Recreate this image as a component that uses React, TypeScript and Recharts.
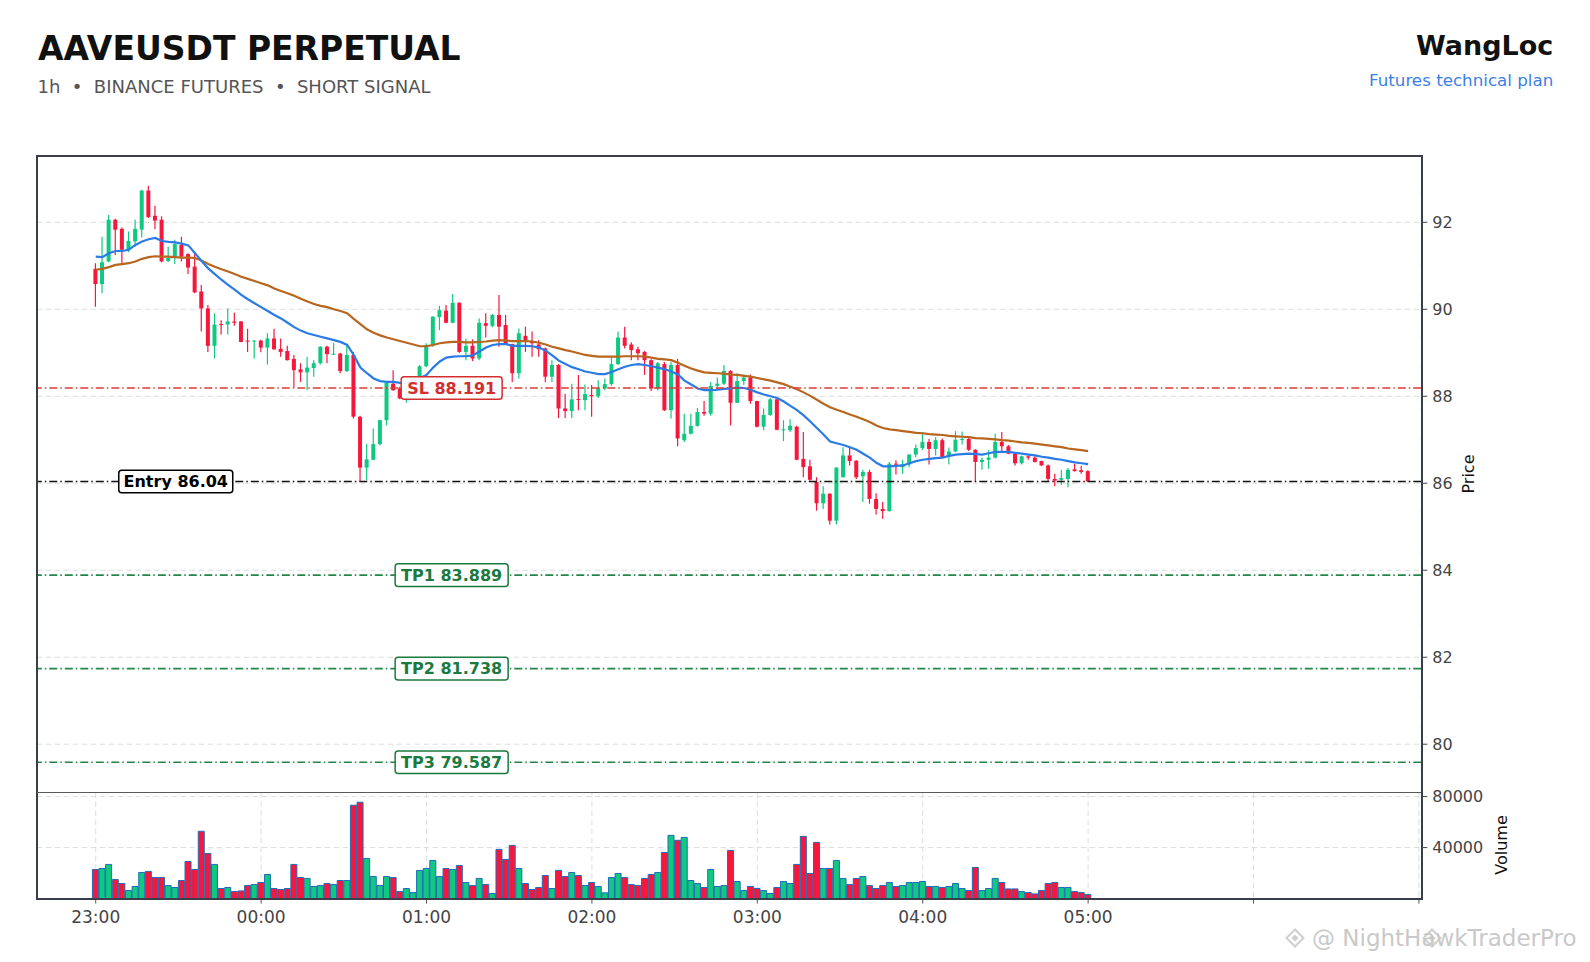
import React from 'react';
import { ComposedChart, Bar, Line, XAxis, YAxis, CartesianGrid, ReferenceLine, ReferenceDot, Cell } from 'recharts';

// open, high, low, close per bar (index 0 = 23:00, 25 bars per hour)
const CANDLES: [number, number, number, number][] = [
  [90.93, 91.06, 90.06, 90.58], [90.58, 91.67, 90.37, 91.08], [91.10, 92.17, 91.08, 92.06], [92.06, 92.08, 91.25, 91.83],
  [91.85, 91.88, 91.06, 91.37], [91.37, 91.79, 91.31, 91.57], [91.56, 92.06, 91.44, 91.85], [91.83, 92.75, 91.65, 92.73],
  [92.73, 92.84, 92.10, 92.12], [92.15, 92.38, 91.84, 92.04], [92.06, 92.14, 91.08, 91.10], [91.11, 91.44, 91.09, 91.18],
  [91.21, 91.60, 91.04, 91.50], [91.48, 91.67, 91.10, 91.21], [91.27, 91.29, 90.81, 90.96], [90.98, 91.29, 90.37, 90.39],
  [90.41, 90.56, 89.49, 90.02], [90.02, 90.10, 89.02, 89.16], [89.16, 89.91, 88.87, 89.65], [89.66, 89.75, 89.42, 89.64],
  [89.65, 90.02, 89.42, 89.72], [89.72, 89.92, 89.62, 89.69], [89.72, 89.73, 89.24, 89.25], [89.28, 89.55, 89.02, 89.26],
  [89.26, 89.29, 88.87, 89.28], [89.28, 89.30, 89.01, 89.12], [89.12, 89.45, 88.73, 89.33], [89.33, 89.55, 89.07, 89.08],
  [89.09, 89.33, 88.91, 89.02], [89.04, 89.16, 88.82, 88.83], [88.86, 88.95, 88.20, 88.60], [88.62, 88.76, 88.33, 88.55],
  [88.55, 88.91, 88.14, 88.66], [88.65, 88.83, 88.45, 88.76], [88.76, 89.15, 88.73, 89.14], [89.14, 89.16, 88.76, 88.97],
  [88.97, 89.22, 88.95, 88.98], [88.98, 89.00, 88.53, 88.58], [88.58, 89.16, 88.56, 88.95], [88.95, 89.02, 87.49, 87.53],
  [87.53, 87.55, 86.05, 86.36], [86.36, 86.91, 86.07, 86.55], [86.54, 87.26, 86.53, 86.90], [86.90, 87.46, 86.87, 87.45],
  [87.45, 88.32, 87.33, 88.31], [88.29, 88.60, 88.13, 88.14], [88.18, 88.22, 87.93, 87.95], [87.95, 88.15, 87.85, 88.05],
  [88.05, 88.30, 87.95, 88.20], [88.20, 88.72, 88.15, 88.69], [88.69, 89.22, 88.67, 89.18], [89.18, 89.84, 89.14, 89.83],
  [89.82, 90.08, 89.52, 89.98], [89.97, 90.10, 89.68, 89.69], [89.69, 90.35, 89.68, 90.15], [90.15, 90.16, 89.00, 89.02],
  [89.02, 89.33, 88.83, 89.16], [89.16, 89.31, 88.81, 88.87], [88.87, 89.79, 88.83, 89.69], [89.68, 89.91, 89.35, 89.62],
  [89.62, 89.89, 89.59, 89.87], [89.87, 90.33, 89.14, 89.60], [89.64, 89.87, 89.18, 89.20], [89.20, 89.21, 88.33, 88.53],
  [88.53, 89.56, 88.41, 89.45], [89.39, 89.60, 89.02, 89.29], [89.25, 89.49, 88.91, 89.22], [89.19, 89.29, 88.91, 89.08],
  [89.10, 89.12, 88.32, 88.45], [88.45, 88.83, 88.33, 88.72], [88.72, 88.74, 87.50, 87.72], [87.72, 88.06, 87.50, 87.66],
  [87.66, 88.29, 87.50, 87.93], [87.94, 88.49, 87.68, 87.92], [87.91, 88.27, 87.68, 88.05], [88.03, 88.26, 87.53, 88.00],
  [88.00, 88.37, 87.96, 88.18], [88.18, 88.41, 88.14, 88.28], [88.28, 88.91, 88.24, 88.74], [88.74, 89.49, 88.72, 89.35],
  [89.35, 89.60, 89.10, 89.16], [89.19, 89.24, 88.83, 89.06], [89.08, 89.14, 88.83, 88.99], [89.02, 89.04, 88.49, 88.83],
  [88.83, 88.85, 88.12, 88.18], [88.18, 88.79, 88.14, 88.76], [88.74, 88.79, 87.66, 87.68], [87.68, 88.79, 87.49, 88.72],
  [88.72, 88.86, 86.85, 87.03], [86.99, 87.60, 86.95, 87.14], [87.14, 87.60, 87.12, 87.32], [87.32, 87.73, 87.30, 87.64],
  [87.64, 87.89, 87.55, 87.60], [87.60, 88.33, 87.55, 88.24], [88.24, 88.43, 88.14, 88.29], [88.29, 88.72, 88.26, 88.58],
  [88.58, 88.60, 87.33, 87.85], [87.85, 88.53, 87.84, 88.35], [88.35, 88.50, 88.26, 88.43], [88.43, 88.50, 87.83, 87.89],
  [87.89, 87.90, 87.28, 87.30], [87.30, 87.72, 87.22, 87.57], [87.57, 87.96, 87.55, 87.93], [87.93, 87.94, 87.22, 87.23],
  [87.23, 87.45, 86.97, 87.24], [87.22, 87.47, 87.18, 87.32], [87.30, 87.32, 86.53, 86.54], [86.56, 87.18, 86.14, 86.37],
  [86.39, 86.54, 86.06, 86.08], [86.03, 86.14, 85.37, 85.54], [85.54, 85.93, 85.41, 85.76], [85.76, 85.77, 85.05, 85.14],
  [85.14, 86.37, 85.05, 86.36], [86.14, 86.83, 86.13, 86.64], [86.64, 86.82, 86.41, 86.51], [86.52, 86.53, 86.10, 86.14],
  [86.16, 86.31, 85.57, 86.26], [86.26, 86.31, 85.53, 85.64], [85.64, 85.77, 85.28, 85.41], [85.41, 85.57, 85.18, 85.36],
  [85.36, 86.49, 85.35, 86.45], [86.45, 86.53, 86.20, 86.43], [86.37, 86.54, 86.22, 86.43], [86.43, 86.67, 86.37, 86.66],
  [86.66, 86.89, 86.60, 86.81], [86.81, 87.18, 86.76, 86.95], [86.95, 87.02, 86.43, 86.79], [86.79, 87.06, 86.64, 86.99],
  [86.99, 87.03, 86.58, 86.59], [86.64, 86.82, 86.43, 86.73], [86.73, 87.20, 86.72, 87.00], [87.00, 87.19, 86.89, 87.02],
  [87.02, 87.08, 86.74, 86.77], [86.77, 86.78, 86.03, 86.49], [86.49, 86.59, 86.31, 86.54], [86.54, 86.76, 86.33, 86.59],
  [86.59, 87.14, 86.57, 86.95], [86.95, 87.18, 86.72, 86.85], [86.85, 86.88, 86.67, 86.68], [86.68, 86.69, 86.41, 86.46],
  [86.46, 86.64, 86.43, 86.62], [86.62, 86.64, 86.54, 86.59], [86.59, 86.62, 86.48, 86.49], [86.51, 86.52, 86.40, 86.41],
  [86.41, 86.43, 86.04, 86.10], [86.10, 86.22, 85.93, 86.06], [86.08, 86.31, 85.96, 86.12], [86.10, 86.35, 85.91, 86.31],
  [86.32, 86.45, 86.27, 86.28], [86.30, 86.40, 86.22, 86.26], [86.28, 86.30, 86.03, 86.04],
];

const VOLUME = [
  22800, 23600, 26800, 15000, 11800, 6300, 9500, 20500, 21300, 16500,
  16500, 10200, 8700, 14200, 29100, 22800, 52800, 35400, 26800, 7900,
  8700, 5500, 6000, 10200, 11000, 12600, 18900, 7900, 7100, 7900,
  26800, 16500, 15800, 9500, 10200, 11800, 11000, 14200, 14200, 73200,
  75600, 31500, 17300, 10200, 17300, 16500, 5500, 7900, 4700, 22100,
  23600, 29900, 17300, 23600, 22800, 26000, 12600, 10200, 15800, 11000,
  4000, 38600, 30700, 41700, 23600, 11800, 7100, 8700, 18100, 7900,
  22100, 17300, 20500, 18100, 10200, 12600, 9500, 4500, 16500, 19700,
  16500, 11000, 10200, 15800, 18900, 20500, 36200, 49600, 45700, 48000,
  14200, 11800, 8700, 22800, 9500, 10200, 37800, 13400, 6300, 9500,
  7900, 6300, 4000, 8700, 13400, 11800, 26800, 48800, 19700, 44100,
  23600, 23600, 29900, 15800, 11000, 15800, 17300, 10200, 7900, 10200,
  12600, 9500, 10200, 12600, 12600, 13400, 9500, 9500, 8700, 9500,
  11800, 7900, 6300, 24400, 6300, 7900, 15800, 12600, 7600, 7600,
  5500, 4700, 3700, 6300, 11800, 12600, 8700, 8700, 5500, 4700, 3200,
];

const EMA_FAST = [
  91.21, 91.20, 91.29, 91.34, 91.34, 91.37, 91.48, 91.56, 91.61, 91.64,
  91.57, 91.55, 91.54, 91.51, 91.47, 91.29, 91.11, 90.94, 90.81, 90.68,
  90.56, 90.45, 90.33, 90.23, 90.14, 90.05, 89.96, 89.87, 89.79, 89.69,
  89.59, 89.51, 89.45, 89.41, 89.37, 89.33, 89.29, 89.25, 89.18, 88.95,
  88.66, 88.53, 88.41, 88.35, 88.33, 88.33, 88.31, 88.31, 88.35, 88.42,
  88.49, 88.66, 88.80, 88.89, 88.91, 88.92, 88.92, 88.94, 89.03, 89.12,
  89.18, 89.20, 89.20, 89.16, 89.16, 89.16, 89.15, 89.12, 89.05, 88.94,
  88.82, 88.74, 88.67, 88.62, 88.57, 88.54, 88.51, 88.51, 88.56, 88.62,
  88.68, 88.72, 88.74, 88.72, 88.69, 88.66, 88.62, 88.57, 88.50, 88.36,
  88.27, 88.18, 88.14, 88.14, 88.15, 88.17, 88.18, 88.20, 88.19, 88.15,
  88.09, 88.04, 88.00, 87.96, 87.88, 87.78, 87.68, 87.56, 87.42, 87.27,
  87.12, 86.96, 86.92, 86.88, 86.83, 86.77, 86.68, 86.59, 86.47, 86.39,
  86.39, 86.40, 86.41, 86.46, 86.51, 86.54, 86.56, 86.58, 86.59, 86.63,
  86.66, 86.67, 86.68, 86.67, 86.66, 86.69, 86.72, 86.72, 86.72, 86.70,
  86.68, 86.66, 86.64, 86.61, 86.59, 86.56, 86.54, 86.51, 86.48, 86.46, 86.44,
];

const EMA_SLOW = [
  90.91, 90.93, 90.97, 91.02, 91.04, 91.06, 91.10, 91.16, 91.20, 91.22,
  91.21, 91.21, 91.20, 91.19, 91.19, 91.18, 91.12, 91.04, 90.98, 90.92,
  90.87, 90.81, 90.75, 90.70, 90.65, 90.60, 90.55, 90.48, 90.42, 90.37,
  90.31, 90.24, 90.18, 90.12, 90.08, 90.05, 90.00, 89.96, 89.91, 89.78,
  89.66, 89.54, 89.46, 89.40, 89.35, 89.31, 89.27, 89.23, 89.19, 89.15,
  89.15, 89.18, 89.22, 89.24, 89.25, 89.25, 89.24, 89.24, 89.25, 89.26,
  89.28, 89.29, 89.28, 89.27, 89.27, 89.27, 89.26, 89.23, 89.19, 89.14,
  89.10, 89.06, 89.03, 88.99, 88.95, 88.93, 88.91, 88.91, 88.91, 88.91,
  88.92, 88.92, 88.92, 88.91, 88.89, 88.86, 88.85, 88.83, 88.77, 88.70,
  88.64, 88.59, 88.55, 88.54, 88.53, 88.52, 88.50, 88.49, 88.47, 88.45,
  88.42, 88.39, 88.36, 88.32, 88.28, 88.22, 88.16, 88.09, 88.01, 87.92,
  87.83, 87.75, 87.69, 87.64, 87.58, 87.53, 87.47, 87.41, 87.33, 87.27,
  87.24, 87.22, 87.20, 87.18, 87.16, 87.15, 87.13, 87.12, 87.11, 87.09,
  87.08, 87.07, 87.06, 87.04, 87.03, 87.02, 87.01, 86.99, 86.98, 86.96,
  86.94, 86.93, 86.91, 86.89, 86.87, 86.85, 86.83, 86.80, 86.78, 86.76, 86.74,
];

const TIME_LABELS = ['23:00', '00:00', '01:00', '02:00', '03:00', '04:00', '05:00', '', ''];
const PRICE_TICKS = [80, 82, 84, 86, 88, 90, 92];
const VOLUME_TICKS = [40000, 80000];

const LEVELS = [
  { name: 'SL', price: 88.191, kind: 'sl' },
  { name: 'Entry', price: 86.04, kind: 'entry' },
  { name: 'TP1', price: 83.889, kind: 'tp' },
  { name: 'TP2', price: 81.738, kind: 'tp' },
  { name: 'TP3', price: 79.587, kind: 'tp' },
];

// layout
const W = 1590;
const H = 962;
const FONT = '"DejaVu Sans", sans-serif';
const UP = '#10c880';
const DOWN = '#f7173d';
const BARS_PER_HOUR = 25;
const X_TICKS = TIME_LABELS.map((_, k) => k * BARS_PER_HOUR);
const X_DOMAIN: [number, number] = [-8.92, 200.36];
const PLOT_LEFT = 36.7;
const AXIS_W = W - 1421.3;
const LABEL_AT = { entry: 12.1, other: 53.8 };

const LEVEL_STYLE: Record<string, { line: string; text: string }> = {
  sl: { line: '#dc3b35', text: '#d32f2f' },
  entry: { line: '#111111', text: '#000000' },
  tp: { line: '#23854b', text: '#1b7a3e' },
};

const rows = CANDLES.map(([open, high, low, close], i) => ({
  i,
  open,
  high,
  low,
  close,
  range: [low, high],
  volume: VOLUME[i],
  fast: EMA_FAST[i],
  slow: EMA_SLOW[i],
}));

const Candle = (props: any) => {
  const { x, y, width, height, payload } = props;
  if (!payload || height == null) return null;
  const { open, close, high, low } = payload;
  const color = close >= open ? UP : DOWN;
  const top = Math.min(y, y + height);
  const h = Math.abs(height);
  const perUnit = h / Math.max(high - low, 1e-6);
  const yOf = (v: number) => top + (high - v) * perUnit;
  const cx = x + width / 2;
  const bodyTop = yOf(Math.max(open, close));
  const bodyH = Math.max(1, Math.abs(yOf(open) - yOf(close)));
  return (
    <g>
      <line x1={cx} x2={cx} y1={top} y2={top + h} stroke={color} strokeWidth={1.2} />
      <rect x={x} y={bodyTop} width={width} height={bodyH} fill={color} />
    </g>
  );
};

const LevelTag = ({ cx, cy, text, kind }: any) => {
  const st = LEVEL_STYLE[kind];
  const w = kind === 'sl' ? 101 : kind === 'entry' ? 114 : 113;
  return (
    <g>
      <rect x={cx - w / 2} y={cy - 11.3} width={w} height={22.6} rx={3} fill="#ffffff" fillOpacity={0.92} stroke={st.text} strokeWidth={1.5} />
      <text x={cx} y={cy + 5.6} textAnchor="middle" fontFamily={FONT} fontWeight="bold" fontSize={16} fill={st.text}>
        {text}
      </text>
    </g>
  );
};

const xTickFormat = (v: number) => TIME_LABELS[Math.round(v / BARS_PER_HOUR)] ?? '';

const PriceChart = () => (
  <ComposedChart width={W} height={800} data={rows} margin={{ top: 156.2, right: 0, bottom: 7.5, left: PLOT_LEFT }}>
    <CartesianGrid stroke="#dedede" strokeDasharray="5.5 3.5" />
    <XAxis dataKey="i" type="number" domain={X_DOMAIN} ticks={X_TICKS} allowDataOverflow height={0} tick={false} tickLine={false} axisLine={false} />
    <YAxis
      orientation="right"
      domain={[78.89, 93.52]}
      ticks={PRICE_TICKS}
      allowDataOverflow
      width={AXIS_W}
      axisLine={false}
      tickSize={6}
      tickMargin={5}
      tickLine={{ stroke: '#444' }}
      tick={{ fontSize: 16, fill: '#444', fontFamily: FONT }}
    />
    <Bar dataKey="range" barSize={4} shape={<Candle />} isAnimationActive={false} />
    <Line dataKey="slow" type="linear" stroke="#b8661f" strokeWidth={2.2} dot={false} isAnimationActive={false} />
    <Line dataKey="fast" type="linear" stroke="#2a7be6" strokeWidth={2.2} dot={false} isAnimationActive={false} />
    {LEVELS.map((lv) => (
      <ReferenceLine
        key={lv.name}
        y={lv.price}
        stroke={LEVEL_STYLE[lv.kind].line}
        strokeWidth={1.6}
        strokeDasharray="8 3 1.5 3"
      />
    ))}
    {LEVELS.map((lv) => (
      <ReferenceDot
        key={lv.name + '-tag'}
        x={lv.kind === 'entry' ? LABEL_AT.entry : LABEL_AT.other}
        y={lv.price}
        r={0}
        ifOverflow="visible"
        shape={(p: any) => <LevelTag cx={p.cx} cy={p.cy} kind={lv.kind} text={`${lv.name} ${lv.price}`} />}
      />
    ))}
  </ComposedChart>
);

const VolumeChart = () => (
  <ComposedChart width={W} height={H} data={rows} margin={{ top: 792.5, right: 0, bottom: 0, left: PLOT_LEFT }}>
    <CartesianGrid stroke="#dedede" strokeDasharray="5.5 3.5" />
    <XAxis
      dataKey="i"
      type="number"
      domain={X_DOMAIN}
      ticks={X_TICKS}
      allowDataOverflow
      height={H - 898.6}
      axisLine={false}
      tickSize={5}
      tickMargin={7}
      tickLine={{ stroke: '#555' }}
      tickFormatter={xTickFormat}
      tick={{ fontSize: 17, fill: '#444', fontFamily: FONT }}
      interval={0}
    />
    <YAxis
      orientation="right"
      domain={[0, 83200]}
      ticks={VOLUME_TICKS}
      allowDataOverflow
      width={AXIS_W}
      axisLine={false}
      tickSize={6}
      tickMargin={5}
      tickLine={{ stroke: '#444' }}
      tick={{ fontSize: 16, fill: '#444', fontFamily: FONT }}
    />
    <Bar dataKey="volume" barSize={6} stroke="#1f6cb8" strokeWidth={1} isAnimationActive={false}>
      {rows.map((r) => (
        <Cell key={r.i} fill={r.close >= r.open ? UP : DOWN} />
      ))}
    </Bar>
  </ComposedChart>
);

// small diamond mark used by the watermark
const Diamond = ({ x, y }: { x: number; y: number }) => (
  <g transform={`translate(${x},${y}) rotate(45)`} fill="none" stroke="#cfcfcf" strokeWidth={2}>
    <rect x={-6} y={-6} width={12} height={12} />
    <rect x={-2.5} y={-2.5} width={5} height={5} fill="#cfcfcf" stroke="none" />
  </g>
);

export default function App() {
  return (
    <div style={{ position: 'absolute', left: 0, top: 0, width: W, height: H, background: '#fff', overflow: 'hidden' }}>
      <div style={{ position: 'absolute', left: 0, top: 0 }}>
        <PriceChart />
      </div>
      <div style={{ position: 'absolute', left: 0, top: 0 }}>
        <VolumeChart />
      </div>
      {/* panel frame and separator */}
      <div style={{ position: 'absolute', left: 35.5, top: 155, width: 1387, height: 744.7, border: '2.4px solid #3a3e48', boxSizing: 'border-box' }} />
      <div style={{ position: 'absolute', left: PLOT_LEFT, top: 791.8, width: 1384.6, height: 1.3, background: '#5a5a5a' }} />
      <svg width={W} height={H} style={{ position: 'absolute', left: 0, top: 0, pointerEvents: 'none' }}>
        <text x={38} y={60} fontFamily={FONT} fontWeight="bold" fontSize={33} fill="#111">AAVEUSDT PERPETUAL</text>
        <text x={37.5} y={92.7} fontFamily={FONT} fontSize={18} fill="#555" style={{ whiteSpace: 'pre' }}>
          {'1h  •  BINANCE FUTURES  •  SHORT SIGNAL'}
        </text>
        <text x={1553.3} y={55} textAnchor="end" fontFamily={FONT} fontWeight="bold" fontSize={27} fill="#111">WangLoc</text>
        <text x={1553.3} y={86} textAnchor="end" fontFamily={FONT} fontSize={16.7} fill="#3b7fe6">Futures technical plan</text>
        <text x={0} y={0} transform="translate(1474,474) rotate(-90)" textAnchor="middle" fontFamily={FONT} fontSize={16} fill="#111">Price</text>
        <text x={0} y={0} transform="translate(1507,845) rotate(-90)" textAnchor="middle" fontFamily={FONT} fontSize={16} fill="#111">Volume</text>
        <Diamond x={1295} y={938} />
        <Diamond x={1432} y={938} />
        <text x={1312} y={946} fill="#c9c9c9" fontFamily={FONT} fontSize={23}>@ NightHawkTraderPro</text>
      </svg>
    </div>
  );
}
